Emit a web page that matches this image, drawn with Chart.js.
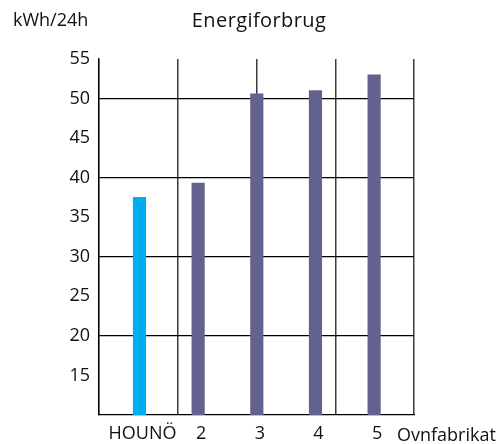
<!DOCTYPE html>
<html>
<head>
<meta charset="utf-8">
<script src="https://cdn.jsdelivr.net/npm/chart.js@4"></script>
<style>
  html, body { margin: 0; padding: 0; background: #fff; }
  #wrap { width: 503px; height: 444px; }
</style>
</head>
<body>
<div id="wrap"><canvas id="myChart" width="503" height="444"></canvas></div>
<script>
// Ovnfabrikater og forbrug (kWh/24h)
const categories = ["HOUNÖ", "2", "3", "4", "5"];
const values = [37.5, 39.3, 50.6, 51.0, 53.0];
const yTicks = [10, 15, 20, 25, 30, 35, 40, 45, 50, 55];
const columns = ["", "", "", ""];   // 4 kolonner i gitteret

const FONT = "'Open Sans', 'Noto Sans', sans-serif";

// Tekster uden for plotområdet
const labelsPlugin = {
    id: 'extraLabels',
    afterDraw(chart) {
        const c = chart.ctx;
        c.save();
        c.fillStyle = '#111';
        c.textBaseline = 'alphabetic';
        c.font = '18px ' + FONT;
        c.textAlign = 'left';
        c.fillText('kWh/24h', 13, 26);
        c.fillText('Ovnfabrikat', 397, 441);
        c.font = '20px ' + FONT;
        c.textAlign = 'center';
        c.letterSpacing = '0.4px';
        c.fillText('Energiforbrug', 259, 27);
        c.restore();
    }
};

const data = categories.map((c, i) => ({ x: i + 1, y: values[i] }));

const ctx = document.getElementById('myChart').getContext('2d');
new Chart(ctx, {
    type: 'bar',
    data: {
        datasets: [{
            label: 'Energiforbrug',
            data: data,
            backgroundColor: ['#00AEEF', '#63628E', '#63628E', '#63628E', '#63628E'],
            barThickness: 12.5,
            xAxisID: 'x',
            yAxisID: 'y'
        }]
    },
    options: {
        responsive: false,
        animation: false,
        layout: { padding: { top: 59, right: 89, left: 0, bottom: 0 } },
        plugins: {
            legend: { display: false },
            title: { display: false },
            tooltip: { enabled: false }
        },
        scales: {
            x: {
                type: 'linear',
                position: 'bottom',
                min: 0.31,
                max: 5.68,
                offset: false,
                afterBuildTicks: s => { s.ticks = categories.map((c, i) => ({ value: i + 1 })); },
                afterFit: s => { s.height = 29; },
                grid: { display: false, drawTicks: false },
                border: { display: true, color: '#000', width: 1.3 },
                ticks: {
                    padding: 8,
                    labelOffset: 3,
                    color: '#111',
                    font: { family: FONT, size: 18 },
                    callback: v => categories[Math.round(v) - 1] || ''
                }
            },
            x2: {
                type: 'category',
                position: 'top',
                labels: columns,
                offset: true,
                grid: { offset: true, drawTicks: false, color: '#3c3c3c', lineWidth: 1.5 },
                border: { display: false },
                ticks: { display: false }
            },
            y: {
                min: 10,
                max: 55,
                afterBuildTicks: s => { s.ticks = yTicks.map(v => ({ value: v })); },
                afterFit: s => { s.width = 99; },
                grid: {
                    drawTicks: false,
                    color: c => (c.tick && c.tick.value % 10 === 0 && c.tick.value > 10) ? '#000' : 'rgba(0,0,0,0)',
                    lineWidth: 1.3
                },
                border: { display: true, color: '#000', width: 1.3 },
                ticks: {
                    padding: 9,
                    color: '#111',
                    font: { family: FONT, size: 18 },
                    callback: v => v === 10 ? '' : v
                }
            }
        }
    },
    plugins: [labelsPlugin]
});
</script>
</body>
</html>
